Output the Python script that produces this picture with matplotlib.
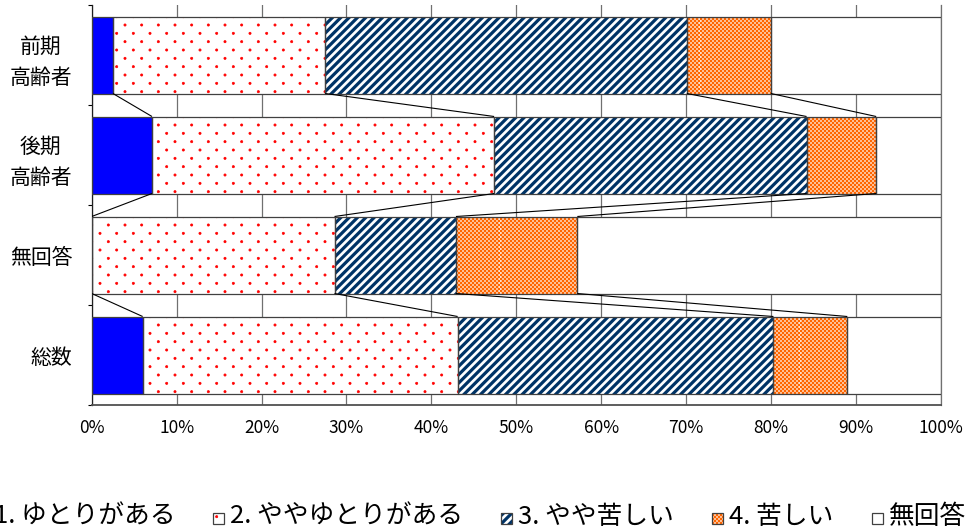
import numpy as np
import matplotlib
matplotlib.use('Agg')
import matplotlib.pyplot as plt
import matplotlib.hatch as mhatch
from matplotlib.path import Path
from matplotlib.patches import Rectangle

plt.rcParams['font.family'] = ['Noto Sans CJK JP', 'DejaVu Sans']

# ---------------- data ----------------
categories = ['前期\n高齢者', '後期\n高齢者', '無回答', '総数']
series_names = ['1. ゆとりがある', '2. ややゆとりがある', '3. やや苦しい', '4. 苦しい', '無回答']
v1 = [2.5, 7.1, 0.0, 6.0]
v2 = [25.0, 40.3, 28.6, 37.1]
v3 = [42.6, 36.8, 14.3, 37.2]
v4 = [9.9, 8.2, 14.3, 8.7]
v5 = [20.0, 7.6, 42.8, 11.0]
xtick_values = [0, 10, 20, 30, 40, 50, 60, 70, 80, 90, 100]
xtick_labels = ['0%', '10%', '20%', '30%', '40%', '50%', '60%', '70%', '80%', '90%', '100%']


# ---------------- custom fill patterns ----------------
class DotLattice(mhatch.HatchPatternBase):
    """'.' -> staggered lattice of small dots (wide columns, close rows)."""
    radius = 0.011

    def __init__(self, hatch, density):
        n = hatch.count('.') * density
        self.n = n
        circ = Path.unit_circle()
        self.sv = circ.vertices
        self.sc = circ.codes
        if n == 0:
            self.num_vertices = 0
        else:
            nrows = 2 * n
            even = nrows // 2 + 1
            odd = nrows // 2
            self.num_vertices = (even * (n + 1) + odd * n) * len(self.sv)

    def set_vertices_and_codes(self, vertices, codes):
        n = self.n
        sv = self.sv * self.radius
        vp, cp = [], []
        for row in range(2 * n + 1):
            y = row / (2 * n)
            if row % 2 == 0:
                cols = np.linspace(0, 1, n + 1)
            else:
                cols = np.linspace(0.5 / n, 1 - 0.5 / n, n)
            for x in cols:
                vp.append(sv + [x, y])
                cp.append(self.sc)
        np.concatenate(vp, out=vertices)
        np.concatenate(cp, out=codes)


class Checker(mhatch.HatchPatternBase):
    """'*' -> fine checkerboard."""
    cells = 50

    def __init__(self, hatch, density):
        k = hatch.count('*')
        if k == 0:
            self.num_vertices = 0
        else:
            n = self.cells
            self.num_sq = sum(1 for i in range(n) for j in range(n) if (i + j) % 2 == 0)
            self.num_vertices = self.num_sq * 5

    def set_vertices_and_codes(self, vertices, codes):
        n = self.cells
        s = 1.0 / n
        sq = np.array([[0, 0], [s, 0], [s, s], [0, s], [0, 0]])
        sc = np.array([Path.MOVETO, Path.LINETO, Path.LINETO, Path.LINETO, Path.CLOSEPOLY],
                      dtype=Path.code_type)
        vp, cp = [], []
        for i in range(n):
            for j in range(n):
                if (i + j) % 2 == 0:
                    vp.append(sq + [i * s, j * s])
                    cp.append(sc)
        np.concatenate(vp, out=vertices)
        np.concatenate(cp, out=codes)


_new_types = []
for t in mhatch._hatch_types:
    if t is mhatch.SmallFilledCircles:
        _new_types.append(DotLattice)
    elif t is mhatch.Stars:
        _new_types.append(Checker)
    else:
        _new_types.append(t)
mhatch._hatch_types = _new_types

styles = [
    dict(fc='#0000FF', hatch=None, hc='#0000FF', hlw=1.0),
    dict(fc='white', hatch='.', hc='#FF0000', hlw=0.5),
    dict(fc='white', hatch='////', hc='#003366', hlw=2.3),
    dict(fc='white', hatch='*', hc='#FF6600', hlw=0.3),
    dict(fc='white', hatch=None, hc='white', hlw=1.0),
]
edge_col = '#404040'

W, H = 966, 532
fig = plt.figure(figsize=(W / 100, H / 100), dpi=100)
ax = fig.add_axes([91.7 / W, 1 - 405 / H, (940.7 - 91.7) / W, 400 / H])

series = [v1, v2, v3, v4, v5]
y = np.arange(len(categories))
bh = 0.77
left = np.zeros(len(categories))
cums = []
for vals, st in zip(series, styles):
    vals = np.asarray(vals, dtype=float)
    with plt.rc_context({'hatch.linewidth': st['hlw']}):
        bars = ax.barh(y, vals, left=left, height=bh, color=st['fc'],
                       edgecolor=st['hc'], linewidth=0, hatch=st['hatch'], zorder=2)
    for p in bars:
        if hasattr(p, 'set_hatch_linewidth'):
            p.set_hatch_linewidth(st['hlw'])
    ax.barh(y, vals, left=left, height=bh, fill=False, edgecolor=edge_col,
            linewidth=0.9, zorder=3)
    left = left + vals
    cums.append(left.copy())

# series connector lines
for cum in cums[:4]:
    for i in range(len(categories) - 1):
        ax.plot([cum[i], cum[i + 1]], [i + bh / 2, i + 1 - bh / 2],
                color='black', linewidth=0.8, zorder=4, solid_capstyle='butt')

ax.set_xlim(0, 100)
ax.set_ylim(len(categories) - 0.5, -0.5)
ax.set_xticks(xtick_values)
ax.set_xticklabels(xtick_labels, fontsize=12.5)
ax.tick_params(axis='x', length=0, pad=10)
ax.set_yticks(y)
ax.set_yticklabels(categories, fontsize=15, linespacing=1.55, multialignment='center')
ax.tick_params(axis='y', which='major', length=0, pad=14)
ax.set_yticks(np.arange(-0.5, len(categories), 1.0), minor=True)
ax.tick_params(axis='y', which='minor', length=3, width=0.8, direction='out', color='black')
ax.grid(axis='x', color='#707070', linewidth=0.9)
ax.set_axisbelow(True)
ax.spines['top'].set_visible(False)
ax.spines['right'].set_color('#707070')
ax.spines['right'].set_linewidth(0.9)
ax.spines['bottom'].set_color('#505050')
ax.spines['bottom'].set_linewidth(1.3)
ax.spines['left'].set_color('#202020')
ax.spines['left'].set_linewidth(0.9)

# ---------------- legend (manual layout) ----------------
fig.canvas.draw()
renderer = fig.canvas.get_renderer()
fs_leg = 18.5
ly = 517
msz = 11
gap_mt = 6
gap_e = 38
texts, widths = [], []
for name in series_names:
    t = fig.text(0, 1 - ly / H, name, fontsize=fs_leg, va='center', ha='left')
    texts.append(t)
    widths.append(t.get_window_extent(renderer).width)
mx = []
x = 0.0
for w in widths:
    mx.append(x)
    x += msz + gap_mt + w + gap_e
shift = 574.5 - np.mean(mx[1:])
mx = [m + shift for m in mx]
for t, st, m in zip(texts, styles, mx):
    with plt.rc_context({'hatch.linewidth': st['hlw']}):
        r1 = Rectangle((m / W, 1 - (ly + msz / 2 + 1) / H), msz / W, msz / H,
                       transform=fig.transFigure, facecolor=st['fc'],
                       edgecolor=st['hc'], linewidth=0, hatch=st['hatch'])
    if hasattr(r1, 'set_hatch_linewidth'):
        r1.set_hatch_linewidth(st['hlw'])
    r2 = Rectangle((m / W, 1 - (ly + msz / 2 + 1) / H), msz / W, msz / H,
                   transform=fig.transFigure, fill=False, edgecolor=edge_col, linewidth=0.9)
    fig.add_artist(r1)
    fig.add_artist(r2)
    t.set_x((m + msz + gap_mt) / W)

fig.savefig('out.png', dpi=100)
